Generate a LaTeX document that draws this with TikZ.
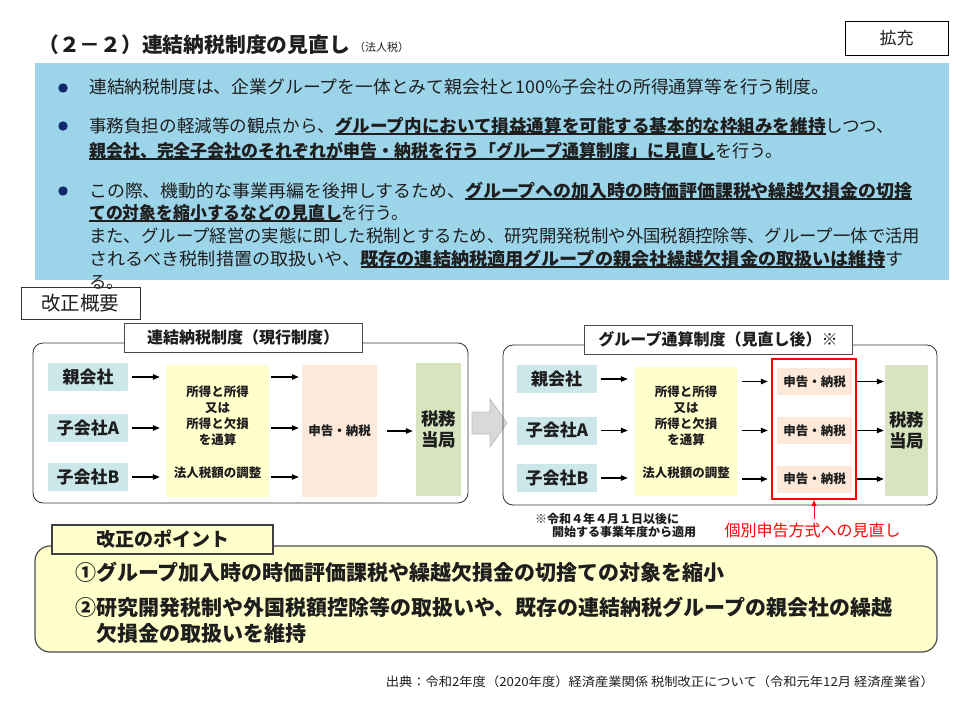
\documentclass[tikz,border=0pt]{standalone}
\usepackage{graphicx}
\usepackage{fontspec}
\setmainfont{Noto Sans CJK JP}
\usetikzlibrary{arrows.meta}
\definecolor{bluebg}{RGB}{156,213,234}
\definecolor{navy}{RGB}{20,40,110}
\definecolor{tealc}{RGB}{203,231,233}
\definecolor{yelc}{RGB}{255,255,204}
\definecolor{peach}{RGB}{253,233,217}
\definecolor{greenc}{RGB}{215,228,189}
\definecolor{cream}{RGB}{255,255,204}
\definecolor{txtc}{RGB}{30,30,30}
\definecolor{grayarr}{RGB}{217,217,217}
\definecolor{grayedge}{RGB}{190,190,190}
\newcommand\fsz[2]{\fontsize{#1}{#2}\selectfont}
\newcommand\ulb[1]{\setbox0\hbox{\bfseries #1}\rlap{\rule[-2.6pt]{\wd0}{1.5pt}}\box0}
\newcommand\fitto[2]{\resizebox{#1pt}{\height}{#2}}
\begin{document}
\begin{tikzpicture}[x=1pt,y=-1pt,
  txt/.style={inner sep=0pt,text=txtc},
  body/.style={txt,anchor=west,font=\fsz{17.5}{21}},
  arr/.style={line width=1.1pt,draw=black,-{Triangle[length=7pt,width=5.5pt]}},
  redarr/.style={line width=1pt,draw=red,-{Triangle[length=6pt,width=5pt]}},
  co/.style={fill=tealc,inner sep=0pt,minimum width=80,minimum height=28,font=\fsz{17}{20}\bfseries,text=txtc},
  yel/.style={fill=yelc,inner sep=0pt},
  pch/.style={fill=peach,inner sep=0pt,font=\fsz{12.5}{15}\bfseries,text=txtc},
  grn/.style={fill=greenc,inner sep=0pt,align=center,font=\fsz{17.5}{21}\bfseries,text=txtc},
  panel/.style={draw=black!80,line width=0.8pt,rounded corners=10pt},
  lab/.style={draw=black!70,fill=white,line width=0.8pt,inner sep=0pt,font=\fsz{16}{19}\bfseries,text=txtc},
  ytxt/.style={txt,align=center,font=\fsz{12.5}{16}\bfseries},
  pt/.style={txt,anchor=west,font=\fsz{21}{25}\bfseries}
]
\useasboundingbox (0,0) rectangle (970,707);
\fill[white] (0,0) rectangle (970,707);

% title
\node[txt,anchor=west,font=\fsz{20.5}{24}\bfseries] (title) at (38,45) {\fitto{312}{（２－２）連結納税制度の見直し}};
\node[txt,anchor=west,font=\fsz{11}{13}] (titlesub) at (354,47) {（法人税）};
\node[draw=black,line width=1pt,minimum width=103,minimum height=34,inner sep=0pt,font=\fsz{17}{20},text=txtc] (kaku) at (896.5,38) {拡充};

% blue box
\fill[bluebg] (35,63) rectangle (949,280);
\fill[navy] (63,88) circle[radius=4.7pt];
\fill[navy] (63,126) circle[radius=4.7pt];
\fill[navy] (63,191) circle[radius=4.7pt];
\node[body] (l1) at (89,87) {\fitto{740}{連結納税制度は、企業グループを一体とみて親会社と100\%子会社の所得通算等を行う制度。}};
\node[body] (l2) at (89,126) {\fitto{805}{事務負担の軽減等の観点から、\ulb{グループ内において損益通算を可能する基本的な枠組みを維持}しつつ、}};
\node[body] (l3) at (89,151) {\fitto{693}{\ulb{親会社、完全子会社のそれぞれが申告・納税を行う「グループ通算制度」に見直し}を行う。}};
\node[body] (m1) at (89,191) {\fitto{823}{この際、機動的な事業再編を後押しするため、\ulb{グループへの加入時の時価評価課税や繰越欠損金の切捨}}};
\node[body] (m2) at (89,213) {\fitto{319}{\ulb{ての対象を縮小するなどの見直し}を行う。}};
\node[body] (m3) at (89,236) {\fitto{831}{また、グループ経営の実態に即した税制とするため、研究開発税制や外国税額控除等、グループ一体で活用}};
\node[body] (m4) at (89,259) {\fitto{814}{されるべき税制措置の取扱いや、\ulb{既存の連結納税適用グループの親会社繰越欠損金の取扱いは維持}す}};
\node[body] (m5) at (89,282) {る。};

% kaisei gaiyo
\node[draw=black!80,line width=1pt,minimum width=119,minimum height=32,inner sep=0pt,font=\fsz{19.5}{22},text=txtc] (gaiyo) at (80.5,303) {改正概要};

% left panel
\draw[panel] (33,343) rectangle (468,503);
\node[lab,minimum width=238,minimum height=29] (labL) at (243,337.5) {連結納税制度（現行制度）};
\node[co] (p1) at (88,377) {親会社};
\node[co] (pA) at (88,428) {子会社A};
\node[co] (pB) at (88,477) {子会社B};
\node[yel,minimum width=103,minimum height=132] (y1) at (217.5,431) {};
\node[ytxt] (y1a) at (217.5,415.5) {所得と所得\\又は\\所得と欠損\\を通算};
\node[ytxt] (y1b) at (217.5,473) {法人税額の調整};
\node[pch,minimum width=75,minimum height=132] (k1) at (339.5,431) {申告・納税};
\node[grn,minimum width=45,minimum height=133] (g1) at (438.5,429.5) {税務\\当局};
\foreach \n in {p1,pA,pB}{
  \draw[arr,shorten <=4pt,shorten >=6pt] (\n.east) -- (\n.east -| y1.west);
  \draw[arr,shorten <=2pt,shorten >=3pt] (\n.east -| y1.east) -- (\n.east -| k1.west);
}
\draw[arr,shorten <=10pt,shorten >=3pt] (k1.east) -- (k1.east -| g1.west);

% gray block arrow
\draw[fill=grayarr,draw=grayedge,line width=0.8pt] (472,412) -- (490,412) -- (490,399) -- (507,423) -- (490,447) -- (490,434) -- (472,434) -- cycle;

% right panel
\draw[panel] (503,345) rectangle (937,505);
\node[lab,minimum width=268,minimum height=29] (labR) at (718,339.5) {グループ通算制度（見直し後）※};
\node[co] (q1) at (556.5,379) {親会社};
\node[co] (qA) at (557,430.5) {子会社A};
\node[co] (qB) at (557,478) {子会社B};
\node[yel,minimum width=102,minimum height=129] (y2) at (686,431.5) {};
\node[ytxt] (y2a) at (686,416) {所得と所得\\又は\\所得と欠損\\を通算};
\node[ytxt] (y2b) at (686,473) {法人税額の調整};
\node[pch,minimum width=75,minimum height=27] (k2a) at (814.5,381.5) {申告・納税};
\node[pch,minimum width=75,minimum height=27] (k2b) at (814.5,430.5) {申告・納税};
\node[pch,minimum width=75,minimum height=27] (k2c) at (814.5,479) {申告・納税};
\node[draw=red,line width=2.2pt,minimum width=84,minimum height=140,inner sep=0pt] (rf) at (814,429) {};
\node[grn,minimum width=43,minimum height=131] (g2) at (906.5,430.5) {税務\\当局};
\foreach \n/\k in {q1/k2a,qA/k2b,qB/k2c}{
  \draw[arr,shorten <=4pt,shorten >=7pt] (\n.east) -- (\n.east -| y2.west);
  \draw[arr,shorten <=5pt,shorten >=9pt] (\k.west -| y2.east) -- (\k.west);
  \draw[arr,shorten <=5pt,shorten >=1pt] (\k.east) -- (\k.east -| g2.west);
}

% notes
\node[txt,anchor=west,font=\fsz{12}{14}\bfseries] (n1) at (535,519) {※令和４年４月１日以後に};
\node[txt,anchor=west,font=\fsz{12}{14}\bfseries] (n2) at (552,532) {開始する事業年度から適用};
\node[txt,text=red,font=\fsz{16}{19}] (rt) at (812.5,530) {個別申告方式への見直し};
\draw[redarr,shorten <=3pt] (rf.south |- rt.north) -- (rf.south);

% bottom points
\draw[fill=cream,draw=black!70,line width=1.2pt,rounded corners=15pt] (35,546) rectangle (937,652);
\node[draw=black!75,line width=1.2pt,fill=cream,minimum width=221,minimum height=29,inner sep=0pt,font=\fsz{19}{22}\bfseries,text=txtc] (tab) at (162.5,539.5) {改正のポイント};
\node[pt] (pt1) at (75,572) {①グループ加入時の時価評価課税や繰越欠損金の切捨ての対象を縮小};
\node[pt] (pt2) at (75,607) {②研究開発税制や外国税額控除等の取扱いや、既存の連結納税グループの親会社の繰越};
\node[pt] (pt3) at (96,633) {欠損金の取扱いを維持};

% source
\node[txt,anchor=east,font=\fsz{12.5}{15}] (src) at (934,682) {\fitto{548}{出典：令和2年度（2020年度）経済産業関係 税制改正について（令和元年12月 経済産業省）}};
\end{tikzpicture}
\end{document}
